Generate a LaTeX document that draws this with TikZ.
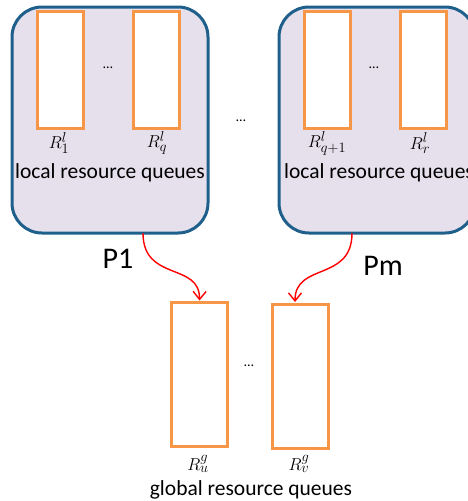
\documentclass[tikz,border=0pt]{standalone}
\usepackage{fontspec}
\setmainfont{Carlito}
\usetikzlibrary{arrows.meta}
\definecolor{procblue}{HTML}{1F5F8B}
\definecolor{procfill}{HTML}{E6E0EC}
\definecolor{queueorange}{HTML}{F79646}
\tikzset{
  procbox/.style={draw=procblue, line width=3pt, fill=procfill, rounded corners=30pt,
    minimum width=196pt, minimum height=226pt, inner sep=0pt},
  queue/.style={draw=queueorange, line width=3pt, fill=white, inner sep=0pt},
  lqueue/.style={queue, minimum width=46pt, minimum height=117pt},
  gqueue/.style={queue, minimum width=56pt, minimum height=144pt},
  qlabel/.style={font=\fontsize{19}{21}\selectfont, inner sep=0pt},
  caption/.style={font=\fontsize{21.5}{24}\selectfont, inner sep=0pt},
  dots/.style={font=\fontsize{14}{16}\selectfont, inner sep=0pt},
  plabel/.style={font=\fontsize{30}{33}\selectfont, inner sep=0pt},
  migrate/.style={draw=red, line width=1.4pt, -{Straight Barb[length=8pt, width=13pt, line width=1.4pt]}}
}
\begin{document}
\begin{tikzpicture}[x=1pt, y=-1pt]
\useasboundingbox (0,0) rectangle (468,501);

% processor 1 with its local queues
\node[procbox] (lbox) at (110,120) {};
\node[lqueue] (l1) at (60,69.5) {};
\node[lqueue] (lq) at (156.5,69.5) {};
\node[dots] (ldots) at (108,68) {\dots};
\node[qlabel] (l1lab) at (59,143) {$R_1^l$};
\node[qlabel] (lqlab) at (157,143) {$R_q^l$};
\node[caption] (lcap) at (110,173) {local resource queues};

% processor m with its local queues
\node[procbox] (rbox) at (377,120) {};
\node[lqueue] (r1) at (327,69.5) {};
\node[lqueue] (rr) at (423.5,69.5) {};
\node[dots] (rdots) at (374,68) {\dots};
\node[qlabel] (r1lab) at (327,143) {$R_{q+1}^l$};
\node[qlabel] (rrlab) at (420,143) {$R_r^l$};
\node[caption] (rcap) at (379,173) {local resource queues};

\node[dots] (mdots) at (241,121) {\dots};

% global queues
\node[gqueue] (gu) at (199.5,374) {};
\node[gqueue] (gv) at (300.5,376.5) {};
\node[dots] (gdots) at (249,366) {\dots};
\node[qlabel] (gulab) at (198,464) {$R_u^g$};
\node[qlabel] (gvlab) at (299,464) {$R_v^g$};
\node[caption] (gcap) at (251,490) {global resource queues};

% processor labels and migration arrows
\node[plabel] (p1) at (118,259) {P1};
\node[plabel] (pm) at (383,266) {Pm};
\coordinate (p1out) at (143,233);
\coordinate (pmout) at (352,233);
\coordinate (gvin) at (295,302);
\draw[migrate] (p1out) .. controls (143,282) and (200,262) .. (gu.north);
\draw[migrate] (pmout) .. controls (352,282) and (295,262) .. (gvin);
\end{tikzpicture}
\end{document}
